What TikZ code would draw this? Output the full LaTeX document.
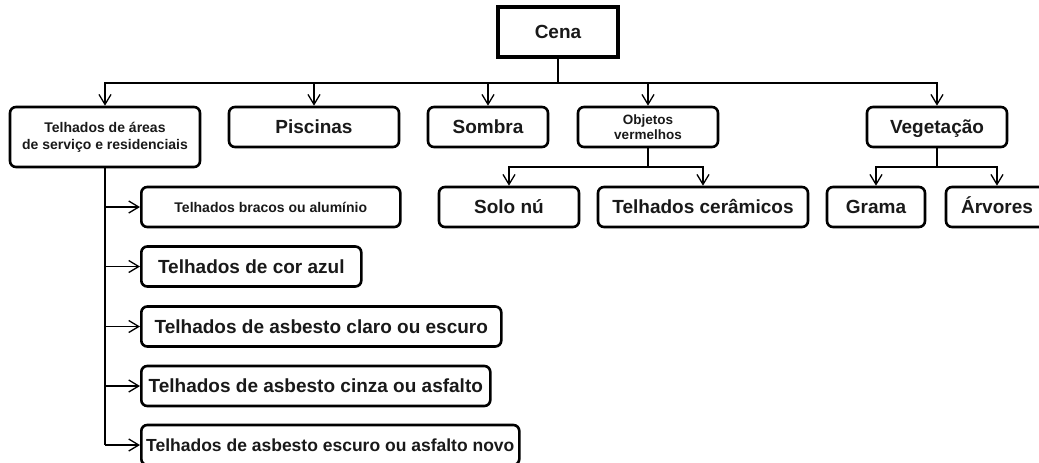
\documentclass[tikz,border=0pt]{standalone}
\usepackage{fontspec}
\setmainfont{Liberation Sans}
\usepackage{tikz}
\usetikzlibrary{shapes,arrows.meta,positioning,calc}

\begin{document}
\begin{tikzpicture}[
    x=1pt, y=-1pt,
    box/.style={rectangle, rounded corners=6pt, draw=black, line width=2.6pt, minimum height=40pt, inner sep=2pt, text=black!90, align=center},
    root/.style={rectangle, draw=black, line width=3.2pt, minimum width=120pt, minimum height=50pt, text=black!90},
    big/.style={font=\fontsize{19}{21}\selectfont\bfseries, text height=13.6pt, text depth=0pt},
    small/.style={font=\fontsize{14}{17}\selectfont\bfseries},
    wire/.style={line width=1.3pt},
    link/.style={wire, -{Straight Barb[length=10pt,width=12pt,line width=1.3pt]}}
]

\useasboundingbox (0,0) rectangle (1039,463);

% Root and first level
\node[root, big] (cena) at (558,32) {Cena};
\node[box, small, minimum width=190pt, minimum height=60pt] (areas) at (105,137) {Telhados de áreas\\de serviço e residenciais};
\node[box, big, minimum width=170pt] (piscinas) at (314,127) {Piscinas};
\node[box, big, minimum width=120pt] (sombra) at (488,127) {Sombra};
\node[box, minimum width=140pt, font=\fontsize{13.5}{15}\selectfont\bfseries] (objetos) at (648,127) {Objetos\\vermelhos};
\node[box, big, minimum width=140pt] (vegetacao) at (937,127) {Vegetação};

% Second level
\node[box, big, minimum width=140pt] (solo) at (509,207) {Solo nú};
\node[box, big, minimum width=210pt] (ceramicos) at (703,207) {Telhados cerâmicos};
\node[box, big, minimum width=98pt] (grama) at (876,207) {Grama};
\node[box, big, minimum width=102pt] (arvores) at (997,207) {Árvores};

% Roof types
\node[box, small, text height=10pt, text depth=0pt, minimum width=259pt, anchor=west] (bracos) at (140,207) {Telhados bracos ou alumínio};
\node[box, big, minimum width=220pt, anchor=west] (azul) at (140,266.5) {Telhados de cor azul};
\node[box, big, minimum width=360pt, anchor=west] (claro) at (140,326.5) {Telhados de asbesto claro ou escuro};
\node[box, big, minimum width=349pt, anchor=west] (cinza) at (140,386) {Telhados de asbesto cinza ou asfalto};
\node[box, big, minimum width=378pt, anchor=west, font=\fontsize{17.5}{20}\selectfont\bfseries, text height=12.5pt] (novo) at (140,445) {Telhados de asbesto escuro ou asfalto novo};

% Connectors
\coordinate (bus) at (558,83);
\draw[wire] (cena) -- (bus);
\foreach \n in {areas,piscinas,sombra,objetos,vegetacao}
    \draw[link] (bus) -| (\n.north);

\coordinate (objbus) at (648,167);
\draw[wire] (objetos) -- (objbus);
\foreach \n in {solo,ceramicos}
    \draw[link] (objbus) -| (\n.north);

\coordinate (vegbus) at (937,167);
\draw[wire] (vegetacao) -- (vegbus);
\foreach \n in {grama,arvores}
    \draw[link] (vegbus) -| (\n.north);

\draw[wire] (areas.south) -- (areas.south |- novo.west);
\foreach \n in {bracos,azul,claro,cinza,novo}
    \draw[link] (areas.south |- \n.west) -- (\n.west);

\end{tikzpicture}
\end{document}
